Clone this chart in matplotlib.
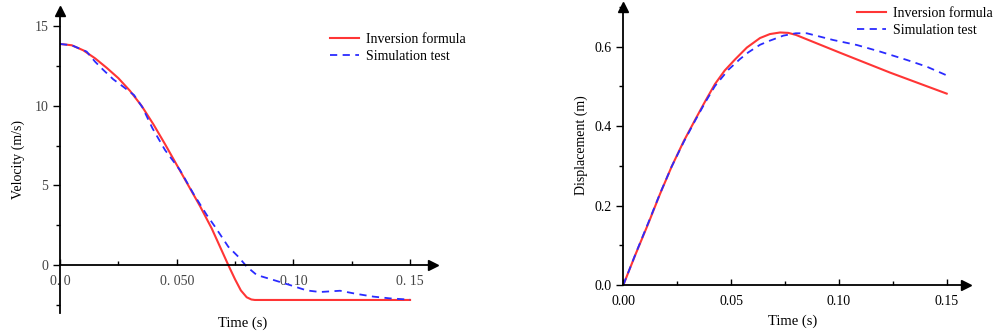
import matplotlib
matplotlib.use("Agg")
import matplotlib.pyplot as plt
from matplotlib.ticker import MultipleLocator, FixedLocator, FixedFormatter

plt.rcParams['font.family'] = ['Liberation Serif', 'DejaVu Serif']

# velocity curves (left panel)
vel_t_inv = [0, 0.005, 0.010, 0.015, 0.020, 0.025, 0.030, 0.035, 0.040, 0.045,
             0.050, 0.055, 0.060, 0.065, 0.0721, 0.075, 0.0775, 0.080, 0.082,
             0.0835, 0.150]
vel_inv = [13.9, 13.82, 13.5, 13.0, 12.4, 11.75, 10.95, 10.0, 8.85, 7.6,
           6.3, 5.0, 3.7, 2.3, 0.0, -0.9, -1.6, -2.03, -2.17,
           -2.2, -2.2]
vel_t_sim = [0, 0.005, 0.0114, 0.015, 0.0186, 0.0228, 0.0271, 0.0317, 0.0353,
             0.0396, 0.045, 0.0514, 0.0571, 0.0629, 0.0664, 0.0721, 0.0764,
             0.080, 0.0843, 0.0914, 0.0985, 0.1057, 0.1114, 0.120, 0.1271,
             0.1343, 0.1414, 0.150]
vel_sim = [13.9, 13.82, 13.42, 12.79, 12.26, 11.68, 11.21, 10.69, 9.92,
           8.6, 7.23, 5.97, 4.5, 3.14, 2.41, 1.15, 0.52,
           -0.1, -0.63, -0.94, -1.26, -1.6, -1.7, -1.62, -1.82,
           -1.99, -2.1, -2.18]

# displacement curves (right panel)
dis_t_inv = [0, 0.0058, 0.0116, 0.017, 0.0224, 0.028, 0.0333, 0.038, 0.0425,
             0.047, 0.0518, 0.0573, 0.0634, 0.0680, 0.0727, 0.0765, 0.0800,
             0.1005, 0.1237, 0.150]
dis_inv = [0, 0.079, 0.155, 0.229, 0.298, 0.362, 0.416, 0.463, 0.506,
           0.540, 0.568, 0.598, 0.622, 0.632, 0.636, 0.635, 0.630,
           0.585, 0.535, 0.482]
dis_t_sim = [0, 0.0058, 0.0116, 0.017, 0.0224, 0.028, 0.0333, 0.038, 0.0425,
             0.0487, 0.0541, 0.058, 0.0634, 0.0673, 0.0742, 0.080, 0.0851,
             0.0974, 0.1083, 0.119, 0.1314, 0.1407, 0.150]
dis_sim = [0, 0.080, 0.157, 0.230, 0.298, 0.360, 0.414, 0.460, 0.501,
           0.542, 0.569, 0.586, 0.605, 0.614, 0.628, 0.634, 0.634,
           0.617, 0.6045, 0.588, 0.567, 0.55, 0.528]

labels = ['Inversion formula', 'Simulation test']
vel_xticks = [0, 0.05, 0.10, 0.15]
vel_xticklabels = ['0. 0', '0. 050', '0. 10', '0. 15']
vel_yticks = [0, 5, 10, 15]
dis_xticks = [0, 0.05, 0.10, 0.15]
dis_xticklabels = ['0.00', '0.05', '0.10', '0.15']
dis_yticks = [0, 0.2, 0.4, 0.6]

RED = '#ff3535'
BLUE = '#2b2bff'

fig = plt.figure(figsize=(9.97, 3.35), dpi=100)
ax1 = fig.add_axes([0.0602, 0.0666, 0.3745, 0.9018])
ax2 = fig.add_axes([0.6252, 0.1493, 0.3438, 0.8296])


def style_axes(ax, xlim, ylim):
    ax.set_xlim(*xlim)
    ax.set_ylim(*ylim)
    for s in ['top', 'right']:
        ax.spines[s].set_visible(False)
    ax.spines['left'].set_position(('data', 0))
    ax.spines['bottom'].set_position(('data', 0))
    for s in ['left', 'bottom']:
        ax.spines[s].set_linewidth(1.3)
    ax.plot(0, 1, marker='^', color='black', markersize=7,
            transform=ax.get_xaxis_transform(), clip_on=False)
    ax.plot(1, 0, marker='>', color='black', markersize=7,
            transform=ax.get_yaxis_transform(), clip_on=False)
    ax.tick_params(axis='x', which='major', direction='in', length=4, width=1)
    ax.tick_params(axis='x', which='minor', direction='in', length=3, width=1)
    ax.tick_params(axis='y', which='major', direction='out', length=5, width=1)
    ax.tick_params(axis='y', which='minor', direction='out', length=3, width=1)
    ax.tick_params(labelsize=10)
    ax.xaxis.set_minor_locator(MultipleLocator(0.025))


legend_kw = dict(loc='upper left', frameon=False, fontsize=10,
                 handlelength=2.1, handletextpad=0.5, labelspacing=0.3,
                 borderpad=0, borderaxespad=0)

# left: velocity
style_axes(ax1, (0, 0.16), (-3, 16))
l1, = ax1.plot(vel_t_inv, vel_inv, color=RED, lw=1.5)
l2, = ax1.plot(vel_t_sim, vel_sim, color=BLUE, lw=1.3, dashes=(4, 3))
ax1.xaxis.set_major_locator(FixedLocator(vel_xticks))
ax1.xaxis.set_major_formatter(FixedFormatter(vel_xticklabels))
ax1.set_yticks(vel_yticks)
ax1.yaxis.set_minor_locator(MultipleLocator(2.5))
ax1.tick_params(axis='x', pad=7, labelcolor='#444444')
ax1.tick_params(axis='y', labelcolor='#444444')
ax1.set_xlabel('Time (s)', fontsize=10.5)
ax1.xaxis.set_label_coords(0.49, -0.012)
ax1.set_ylabel('Velocity (m/s)', fontsize=10)
ax1.yaxis.set_label_coords(-0.094, 0.506)
ax1.legend([l1, l2], labels, bbox_to_anchor=(330 / 997, 1 - 33 / 335),
           bbox_transform=fig.transFigure, **legend_kw)

# right: displacement
style_axes(ax2, (0, 0.159), (0, 0.70))
r1, = ax2.plot(dis_t_inv, dis_inv, color=RED, lw=1.5)
r2, = ax2.plot(dis_t_sim, dis_sim, color=BLUE, lw=1.3, dashes=(4, 3))
ax2.xaxis.set_major_locator(FixedLocator(dis_xticks))
ax2.xaxis.set_major_formatter(FixedFormatter(dis_xticklabels))
ax2.set_yticks(dis_yticks)
ax2.set_yticklabels(['0.0', '0.2', '0.4', '0.6'])
ax2.yaxis.set_minor_locator(MultipleLocator(0.1))
ax2.tick_params(axis='x', pad=7)
ax2.set_xlabel('Time (s)', fontsize=10.5)
ax2.xaxis.set_label_coords(0.495, -0.108)
ax2.set_ylabel('Displacement (m)', fontsize=10)
ax2.yaxis.set_label_coords(-0.103, 0.504)
ax2.legend([r1, r2], labels, bbox_to_anchor=(857 / 997, 1 - 7 / 335),
           bbox_transform=fig.transFigure, **legend_kw)

fig.savefig('out.png', dpi=100)
